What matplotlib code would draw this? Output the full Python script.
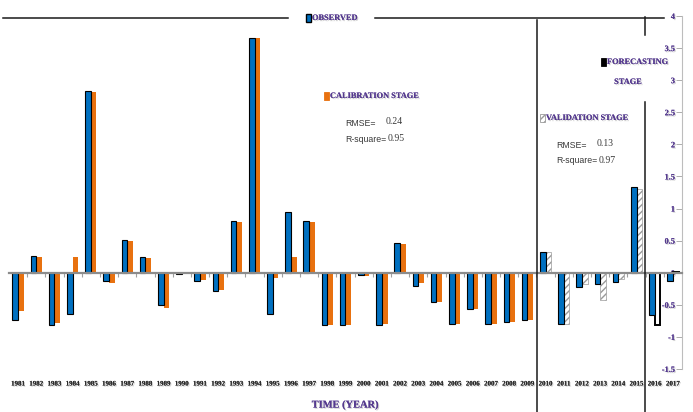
import matplotlib
matplotlib.use("Agg")
import matplotlib.pyplot as plt
import matplotlib.patheffects as pe
from matplotlib.lines import Line2D
from matplotlib.patches import Rectangle
import numpy as np

years = [str(y) for y in range(1981, 2018)]

observed = [-0.73, 0.26, -0.81, -0.65, 2.83, -0.13, 0.51, 0.24, -0.51, -0.02,
            -0.13, -0.28, 0.80, 3.66, -0.65, 0.95, 0.80, -0.82, -0.82, -0.04,
            -0.81, 0.46, -0.20, -0.46, -0.80, -0.56, -0.80, -0.77, -0.74, 0.33,
            -0.80, -0.22, -0.17, -0.14, 1.33, -0.66, -0.13]

# model output per stage
calibration = [-0.59, 0.25, -0.78, 0.25, 2.82, -0.16, 0.50, 0.23, -0.55, 0.0,
               -0.12, -0.27, 0.79, 3.65, -0.08, 0.25, 0.79, -0.81, -0.81, -0.05,
               -0.80, 0.44, -0.16, -0.45, -0.80, -0.57, -0.80, -0.77, -0.73]
validation = [0.32, -0.80, -0.18, -0.42, -0.09, 1.31]
forecasting = [-0.82, 0.01]

calib_stats = ("0.24", "0.95")
valid_stats = ("0.13", "0.97")

yticks = [-1.5, -1, -0.5, 0, 0.5, 1, 1.5, 2, 2.5, 3, 3.5, 4]

W, H = 693, 412
PURPLE = "#553a8f"
BLUE = "#0070c0"
ORANGE = "#e8710f"
SERIF = "Liberation Serif"
SANS = "Liberation Sans"

shadow = [pe.withSimplePatchShadow(offset=(0.8, -0.8), shadow_rgbFace="#999999", alpha=0.5),
          pe.Normal()]


def fx(x):
    return x / W


def fy(y):
    return 1 - y / H


fig = plt.figure(figsize=(W / 100, H / 100), dpi=100)
ax = fig.add_axes([fx(9), fy(369), fx(682) - fx(9), fy(16) - fy(369)])

x = np.arange(len(years))
bw = 0.31
n_cal = len(calibration)
n_val = len(validation)

ax.bar(x - bw / 2, observed, bw, color=BLUE, edgecolor="black", linewidth=0.8, zorder=3)
ax.bar(x[:n_cal] + bw / 2, calibration, bw, color=ORANGE, linewidth=0, zorder=2)
ax.bar(x[n_cal:n_cal + n_val] + bw / 2, validation, bw, color="white",
       edgecolor="#9a9a9a", hatch="/////", linewidth=0.5, zorder=2)
ax.bar(x[n_cal + n_val:] + bw / 2, forecasting, bw, color="white",
       edgecolor="black", linewidth=1.4, zorder=2)

ax.set_xlim(-0.5, len(years) - 0.5)
ax.set_ylim(-1.5, 4)

# zero line carries the category separators
for s in ["top", "left"]:
    ax.spines[s].set_visible(False)
ax.spines["bottom"].set_position(("data", 0))
ax.spines["bottom"].set_color("#8c8c8c")
ax.spines["bottom"].set_linewidth(1.6)
ax.spines["bottom"].set_zorder(4)
ax.set_xticks(x)
ax.set_xticklabels([])
ax.tick_params(axis="x", which="major", length=0)
ax.set_xticks(x[:-1] + 0.5, minor=True)
ax.tick_params(axis="x", which="minor", length=3, width=0.8, color="#a0a0a0", direction="out")

sec = ax.secondary_xaxis("bottom")
sec.set_xticks(x)
sec.set_xticklabels(years, fontfamily=SERIF, fontweight="bold", fontsize=5, color="#2a2a2a")
sec.tick_params(length=0, pad=9)
sec.spines["bottom"].set_visible(False)
for lab in sec.get_xticklabels():
    lab.set_path_effects(shadow)

ax.yaxis.tick_right()
ax.spines["right"].set_color("#bdbdbd")
ax.spines["right"].set_linewidth(0.8)
ax.set_yticks(yticks)
ax.set_yticklabels([f"{v:g}" for v in yticks], fontfamily=SERIF, fontweight="bold",
                   fontsize=6, color=PURPLE)
ax.tick_params(axis="y", direction="in", length=4, width=0.6, color="#a0a0a0", pad=-5)
for lab in ax.get_yticklabels():
    lab.set_horizontalalignment("right")
    lab.set_path_effects(shadow)

fig.text(fx(345), fy(405), "TIME (YEAR)", fontfamily=SERIF, fontweight="bold", fontsize=7.5,
         color=PURPLE, ha="center", va="center", path_effects=shadow)

# stage separators and top rule
for (x0, y0), (x1, y1) in [((3, 18), (288, 18)), ((375, 18), (664, 18)),
                           ((537, 20), (537, 412)), ((645, 17), (645, 35)),
                           ((645, 102), (645, 412))]:
    fig.add_artist(Line2D([fx(x0), fx(x1)], [fy(y0), fy(y1)], color="#1a1a1a",
                          linewidth=1.1, transform=fig.transFigure))


def stage_label(mx, my, text, face, edge, hatch=None, lw=0.6):
    fig.add_artist(Rectangle((fx(mx), fy(my + 4)), 5 / W, 8 / H, facecolor=face,
                             edgecolor=edge, hatch=hatch, linewidth=lw,
                             transform=fig.transFigure))
    fig.text(fx(mx + 6), fy(my), text, fontfamily=SERIF, fontweight="bold", fontsize=6,
             color=PURPLE, ha="left", va="center", path_effects=shadow)


def stats(tx, ty, vals):
    fig.text(fx(tx), fy(ty), "RMSE=", fontfamily=SANS, fontsize=6.3, color="#3a3a3a",
             ha="left", va="center")
    fig.text(fx(tx + 41), fy(ty - 1), vals[0], fontfamily=SERIF, fontsize=7, color="#3a3a3a",
             ha="left", va="center")
    fig.text(fx(tx), fy(ty + 16), "R-square=", fontfamily=SANS, fontsize=6.3, color="#3a3a3a",
             ha="left", va="center")
    fig.text(fx(tx + 43), fy(ty + 15), vals[1], fontfamily=SERIF, fontsize=7, color="#3a3a3a",
             ha="left", va="center")


stage_label(306, 18, "OBSERVED", BLUE, "black", lw=1.0)
stage_label(324, 96, "CALIBRATION STAGE", ORANGE, ORANGE)
stats(345, 123, calib_stats)
stage_label(540, 118, "VALIDATION STAGE", "white", "#9a9a9a", hatch="/////")
stats(556, 145, valid_stats)
stage_label(601, 62, "FORECASTING", "black", "black")
fig.text(fx(628), fy(82), "STAGE", fontfamily=SERIF, fontweight="bold", fontsize=6,
         color=PURPLE, ha="center", va="center", path_effects=shadow)

fig.savefig("out.png", dpi=100)
plt.close(fig)
